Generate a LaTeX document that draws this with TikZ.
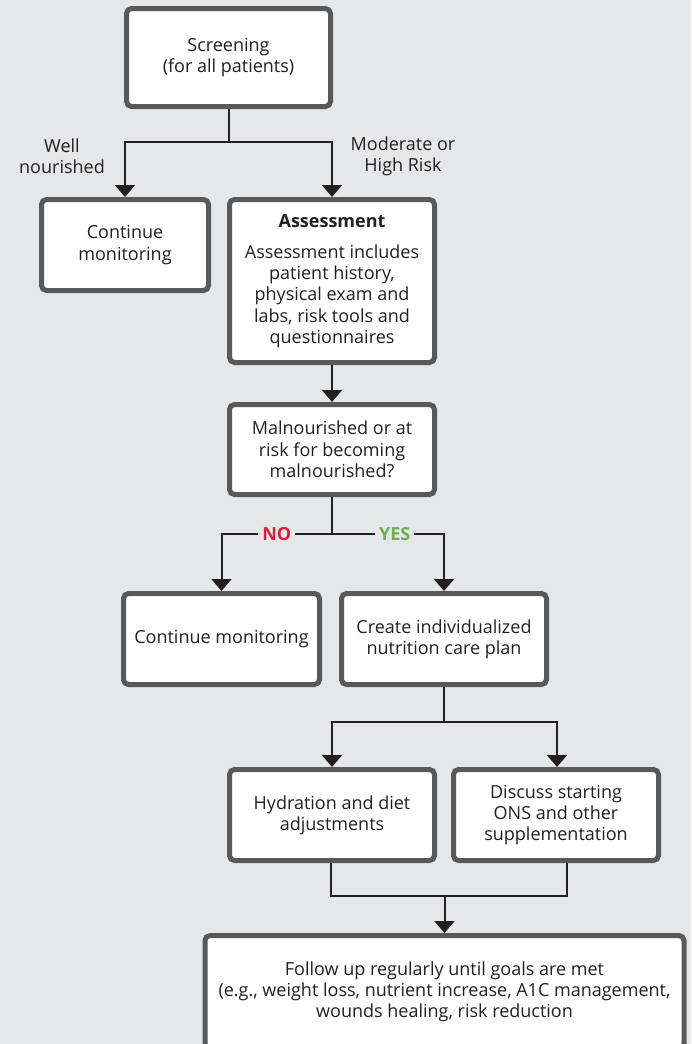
\documentclass[tikz,border=0pt]{standalone}
\usepackage{fontspec}
\setmainfont{Open Sans}
\usetikzlibrary{arrows.meta}
\definecolor{bg}{HTML}{E6E7E8}
\definecolor{frame}{HTML}{58595B}
\definecolor{ink}{HTML}{231F20}
\definecolor{nored}{HTML}{D6213F}
\definecolor{yesgreen}{HTML}{6AB150}
\tikzset{
	box/.style={draw=frame, fill=white, line width=5pt, rounded corners=5pt, align=center, text=ink, minimum width=205pt, minimum height=91pt, inner sep=2pt},
	line/.style={draw=ink, line width=2pt},
	arr/.style={line, -{Triangle[width=20pt,length=12pt]}},
	lbl/.style={align=center, text=ink},
	tag/.style={fill=bg, font=\fontsize{18}{21}\selectfont\bfseries, inner sep=4pt}
}
\begin{document}
\begin{tikzpicture}[x=1pt,y=-1pt,font=\fontsize{18}{21.3}\selectfont]
				\fill[bg] (0,0) rectangle (691,1044);
				\useasboundingbox (0,0) rectangle (691,1044);
				\clip (0,0) rectangle (691,1044);
				% boxes
				\node[box, minimum width=204pt, minimum height=98pt] (screen) at (228.5,57.5) {Screening\\(for all patients)};
				\node[box, minimum width=167pt] (well) at (125,245) {Continue\\monitoring};
				\node[box, minimum height=163pt] (assess) at (332,281) {\textbf{Assessment}\\[10pt]Assessment includes\\patient history,\\physical exam and\\labs, risk tools and\\questionnaires};
				\node[box, minimum height=90pt] (mal) at (332,449.5) {Malnourished or at\\risk for becoming\\malnourished?};
				\node[box, minimum width=196pt] (cont) at (221.5,639) {Continue monitoring};
				\node[box] (plan) at (444,639) {Create individualized\\nutrition care plan};
				\node[box] (hyd) at (332,815) {Hydration and diet\\adjustments};
				\node[box] (ons) at (556,815) {Discuss starting\\ONS and other\\supplementation};
				\node[box, minimum width=479pt, minimum height=113pt, anchor=north] (follow) at (444.5,933) {Follow up regularly until goals are met\\(e.g., weight loss, nutrient increase, A1C management,\\wounds healing, risk reduction};
				% branch labels
				\node[lbl] (wellnote) at (62,156) {Well\\nourished};
				\node[lbl] (risknote) at (403,156) {Moderate or\\High Risk};
				% connectors
				\coordinate (split1) at (228.5,142);
				\coordinate (split2) at (332,534);
				\coordinate (split3) at (444,722);
				\coordinate (join) at (444.5,896);
				\draw[line] (screen.south) -- (split1);
				\draw[arr] (split1) -| (well.north);
				\draw[arr] (split1) -| (assess.north);
				\draw[arr] (assess) -- (mal);
				\draw[line] (mal.south) -- (split2);
				\draw[arr] (split2) -| node[tag, text=nored, pos=0.25] (no) {NO} (cont.north);
				\draw[arr] (split2) -| node[tag, text=yesgreen, pos=0.28] (yes) {YES} (plan.north);
				\draw[line] (plan.south) -- (split3);
				\draw[arr] (split3) -| (hyd.north);
				\draw[arr] (split3) -| ([xshift=1pt]ons.north);
				\draw[line] ([xshift=-1pt]hyd.south) |- (join);
				\draw[line] ([xshift=11pt]ons.south) |- (join);
				\draw[arr] (join) -- (follow.north);
\end{tikzpicture}
\end{document}
